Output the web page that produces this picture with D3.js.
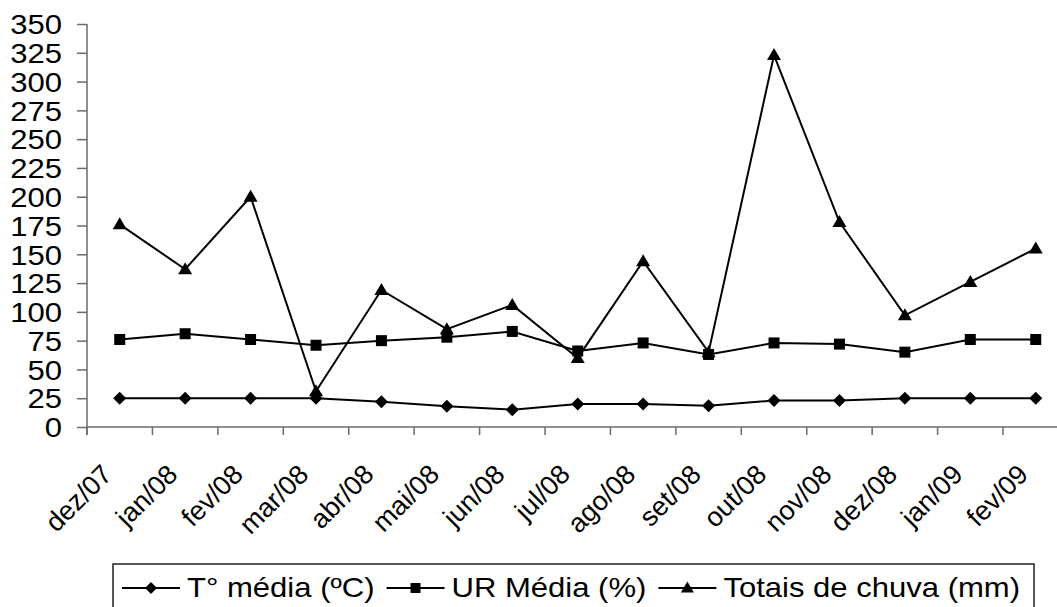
<!DOCTYPE html>
<html>
<head>
<meta charset="utf-8">
<script src="https://cdn.jsdelivr.net/npm/d3@7"></script>
<style>
  body { margin: 0; background: #fff; }
  svg { display: block; font-family: "Liberation Sans", Arial, sans-serif; }
</style>
</head>
<body>
<svg id="chart" width="1057" height="607"></svg>
<script>
var months = ["dez/07", "jan/08", "fev/08", "mar/08", "abr/08", "mai/08", "jun/08", "jul/08",
              "ago/08", "set/08", "out/08", "nov/08", "dez/08", "jan/09", "fev/09"];
var tempMedia = [25, 25, 25, 25, 22, 18, 15, 20, 20, 18.5, 23, 23, 25, 25, 25];
var urMedia = [76, 81, 76, 71, 75, 78, 83, 66, 73, 63, 73, 72, 65, 76, 76];
var chuva = [176, 137, 200, 31, 119, 85, 106, 60, 144, 65, 323, 178, 97, 126, 155];
var yTicks = d3.range(0, 351, 25);
var seriesNames = ["T° média (ºC)", "UR Média (%)", "Totais de chuva (mm)"];

(function () {
    var svg = d3.select("#chart");
    var fs = 27, sx = 1.15;   // horizontal text in the picture is stretched sideways

    var plotLeft = 87, step = 65.43, plotTop = 24, plotBottom = 427;
    var x = d3.scaleBand().domain(months).range([plotLeft, plotLeft + step * months.length]);
    var y = d3.scaleLinear().domain([0, 350]).range([plotBottom, plotTop]);
    var cx = function (i) { return x(months[i]) + x.bandwidth() / 2; };

    // marker shapes
    var shapes = {
        diamond: function (r) { return "M0," + (-r) + "L" + r + ",0L0," + r + "L" + (-r) + ",0Z"; },
        square: function (r) { return "M" + (-r) + "," + (-r) + "H" + r + "V" + r + "H" + (-r) + "Z"; },
        triangle: function (r) { return "M0," + (-r - 1) + "L" + (r + 1) + "," + (r - 1) + "L" + (-r - 1) + "," + (r - 1) + "Z"; }
    };
    var series = [
        { name: seriesNames[0], values: tempMedia, shape: "diamond", r: 6.5 },
        { name: seriesNames[1], values: urMedia, shape: "square", r: 5.5 },
        { name: seriesNames[2], values: chuva, shape: "triangle", r: 6 }
    ];

    // y axis
    var yAxis = d3.axisLeft(y).tickValues(yTicks).tickSize(10).tickSizeOuter(0);
    var gy = svg.append("g").attr("transform", "translate(" + plotLeft + ",0)").call(yAxis);
    gy.attr("font-family", null).attr("font-size", null);
    gy.select(".domain").attr("stroke", "#6b6b6b").attr("stroke-width", 1.5)
        .attr("d", "M0," + y(350) + "V" + (plotBottom + 8));
    gy.selectAll(".tick line").attr("stroke", "#6b6b6b").attr("stroke-width", 1.5);
    gy.selectAll(".tick text")
        .attr("x", 0).attr("dy", "0.36em")
        .attr("transform", "translate(-25,0) scale(" + sx + ",1)")
        .style("font-size", fs + "px").attr("fill", "#000");

    // x axis: line and ticks on band boundaries
    var gx = svg.append("g");
    gx.append("line")
        .attr("x1", plotLeft).attr("x2", x.range()[1])
        .attr("y1", y(0)).attr("y2", y(0))
        .attr("stroke", "#6b6b6b").attr("stroke-width", 1.5);
    var bounds = months.map(function (m) { return x(m); }).concat([x.range()[1]]);
    gx.selectAll("line.tk").data(bounds).enter().append("line").attr("class", "tk")
        .attr("x1", function (d) { return d; }).attr("x2", function (d) { return d; })
        .attr("y1", y(0)).attr("y2", y(0) + 8)
        .attr("stroke", "#6b6b6b").attr("stroke-width", 1.5);
    gx.selectAll("text").data(months).enter().append("text")
        .attr("text-anchor", "end")
        .attr("transform", function (d, i) {
            return "translate(" + (cx(i) - 6) + "," + (y(0) + 49) + ") rotate(-45)";
        })
        .style("font-size", fs + "px")
        .text(function (d) { return d; });

    // lines and markers
    var line = d3.line().x(function (d, i) { return cx(i); }).y(function (d) { return y(d); });
    series.forEach(function (s) {
        svg.append("path").datum(s.values)
            .attr("d", line).attr("fill", "none")
            .attr("stroke", "#000").attr("stroke-width", 2);
        svg.selectAll("path.m-" + s.shape).data(s.values).enter().append("path")
            .attr("class", "m-" + s.shape)
            .attr("transform", function (d, i) { return "translate(" + cx(i) + "," + y(d) + ")"; })
            .attr("d", shapes[s.shape](s.r)).attr("fill", "#000");
    });

    // legend
    var lg = svg.append("g");
    var box = lg.append("rect").attr("x", 113).attr("y", 564).attr("height", 60)
        .attr("fill", "#fff").attr("stroke", "#222").attr("stroke-width", 1.5);
    var lx = 122, ly = 588;
    series.forEach(function (s) {
        lg.append("line").attr("x1", lx).attr("x2", lx + 58).attr("y1", ly).attr("y2", ly)
            .attr("stroke", "#000").attr("stroke-width", 2);
        lg.append("path").attr("transform", "translate(" + (lx + 29) + "," + ly + ")")
            .attr("d", shapes[s.shape](s.r - 0.5)).attr("fill", "#000");
        var t = lg.append("text")
            .attr("transform", "translate(" + (lx + 65) + "," + (ly + 9) + ") scale(" + sx + ",1)")
            .style("font-size", fs + "px").text(s.name);
        lx = lx + 65 + t.node().getComputedTextLength() * sx + 12;
    });
    box.attr("width", lx + 2 - 113);
})();
</script>
</body>
</html>
